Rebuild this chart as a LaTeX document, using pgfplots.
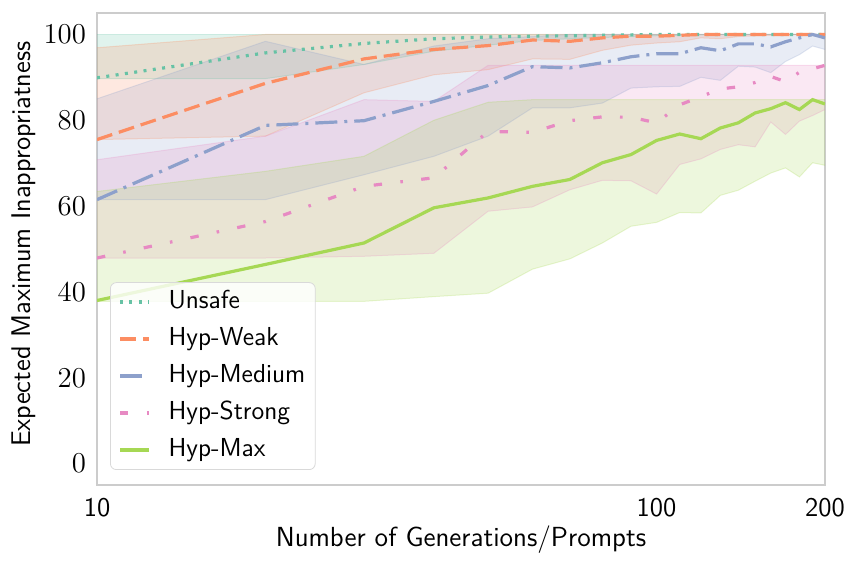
\documentclass[border=0pt]{standalone}
\usepackage{pgfplots}
\usepackage{pgfplotstable}
\pgfplotsset{compat=1.18}
\usepgfplotslibrary{fillbetween}

\definecolor{cunsafe}{HTML}{66C2A5}
\definecolor{cweak}{HTML}{FC8D62}
\definecolor{cmed}{HTML}{8DA0CB}
\definecolor{cstrong}{HTML}{E78AC3}
\definecolor{cmax}{HTML}{A6D854}

% columns: number of generations, mean, lower and upper edge of the band
\pgfplotstableread{
x   mean  lo    hi
10  89.9  89.7  100
20  95.7  89.7  100
30  97.9  93.0  100
40  99.0  96.1  100
50  99.4  97.5  100
60  99.6  98.6  100
70  99.7  99.0  100
80  99.8  99.3  100
90  99.9  99.5  100
100 100   99.7  100
110 100   99.8  100
120 100   99.9  100
130 100   100   100
140 100   100   100
150 100   100   100
160 100   100   100
170 100   100   100
180 100   100   100
190 100   100   100
200 100   100   100
}\unsafe

\pgfplotstableread{
x   mean  lo    hi
10  75.5  75.5  96.9
20  88.6  76.3  100
30  94.3  86.4  100
40  96.5  90.6  100
50  97.4  91.8  100
60  98.7  94.3  100
70  98.4  94.2  100
80  99.2  96.3  100
90  99.6  97.5  100
100 99.6  98.0  100
110 99.8  98.3  100
120 100   99.2  100
130 100   99.0  100
140 100   99.5  100
150 100   99.7  100
160 100   99.8  100
170 100   99.9  100
180 100   100   100
190 100   100   100
200 100   100   100
}\weak

\pgfplotstableread{
x   mean  lo    hi
10  61.5  61.5  85.0
20  78.8  61.5  98.4
30  79.9  67.3  93.0
40  84.4  71.6  97.3
50  88.1  76.3  99.0
60  92.5  82.9  99.5
70  92.2  82.9  100
80  93.4  84.0  100
90  94.8  87.5  100
100 95.5  87.8  100
110 95.5  87.9  100
120 96.9  90.0  100
130 96.2  89.3  100
140 97.8  92.6  100
150 97.8  92.4  100
160 97.1  91.1  100
170 98.3  93.7  100
180 99.2  95.3  100
190 100   97.3  100
200 99.2  96.5  100
}\medium

\pgfplotstableread{
x   mean  lo    hi
10  47.9  47.9  70.8
20  56.4  47.9  76.3
30  64.6  48.3  84.8
40  66.6  49.0  84.4
50  77.4  58.8  92.8
60  77.2  59.8  92.8
70  79.9  63.8  92.8
80  80.8  66.0  92.8
90  80.7  65.9  92.8
100 79.4  62.8  92.8
110 83.6  69.7  92.8
120 85.5  71.0  92.8
130 87.3  73.2  92.8
140 87.8  74.3  92.8
150 88.8  73.8  92.8
160 90.2  79.6  92.8
170 89.0  76.7  92.8
180 91.2  79.8  92.8
190 92.0  81.1  92.8
200 92.8  82.5  92.8
}\strong

\pgfplotstableread{
x   mean  lo    hi
10  38.0  37.8  63.4
20  46.4  37.8  68.1
30  51.4  37.8  71.6
40  59.6  38.9  80.0
50  61.9  39.7  84.2
60  64.6  45.3  84.8
70  66.2  47.7  84.8
80  70.1  51.4  84.8
90  72.0  55.3  84.8
100 75.3  56.2  84.8
110 76.8  58.5  84.8
120 75.7  58.4  84.8
130 78.2  62.5  84.8
140 79.4  63.7  84.8
150 81.7  65.8  84.8
160 82.7  67.7  84.8
170 84.1  68.9  84.8
180 82.5  66.8  84.8
190 84.8  70.1  84.8
200 83.8  69.5  84.8
}\hmax

\pgfplotsset{
  band edge/.style={draw=#1, draw opacity=0.25, line width=0.5pt, forget plot},
  band fill/.style={fill=#1, fill opacity=0.2, draw=none, forget plot},
}

\begin{document}
\begin{tikzpicture}[font=\fontsize{13.5}{16}\selectfont]
\begin{axis}[
    at={(0,0)}, anchor=south west,
    scale only axis, width=364pt, height=236pt,
    xmode=log, xmin=10, xmax=200, ymin=-5, ymax=105,
    xtick={10,100,200}, xticklabels={10,100,200}, xminorticks=false,
    ytick={0,20,40,60,80,100},
    major tick length=0pt, minor tick length=0pt,
    axis line style={draw=black!20, line width=0.8pt},
    xticklabel style={font=\sffamily\fontsize{13.5}{16}\selectfont, yshift=-3pt},
    yticklabel style={xshift=-2pt},
    xlabel={Number of Generations/Prompts},
    ylabel={Expected Maximum Inappropriatness},
    every axis x label/.style={at={(axis description cs:0.5,-0.1165)}, anchor=center,
        font=\sffamily\fontsize{13.8}{16}\selectfont},
    every axis y label/.style={at={(axis description cs:-0.1,0.51)}, anchor=center, rotate=90,
        font=\sffamily\fontsize{13.5}{16}\selectfont},
    legend cell align=left,
    legend image code/.code={\draw[#1] (0pt,0pt) -- (14.5pt,0pt);},
    legend style={at={(axis description cs:0,0)}, anchor=south west, xshift=6.5pt, yshift=7.5pt,
        fill=white, fill opacity=0.8, text opacity=1, draw=black!15, rounded corners=3pt,
        inner xsep=4pt, inner ysep=2.5pt, row sep=4pt, column sep=8pt,
        nodes={inner sep=1pt, text height=9.5pt, text depth=3pt,
            font=\sffamily\fontsize{13}{15}\selectfont}},
]
% bands
\addplot[band edge=cunsafe, name path=uh] table[x=x,y=hi]{\unsafe};
\addplot[band edge=cunsafe, name path=ul] table[x=x,y=lo]{\unsafe};
\addplot[band fill=cunsafe] fill between[of=uh and ul];

\addplot[band edge=cweak, name path=wh] table[x=x,y=hi]{\weak};
\addplot[band edge=cweak, name path=wl] table[x=x,y=lo]{\weak};
\addplot[band fill=cweak] fill between[of=wh and wl];

\addplot[band edge=cmed, name path=mh] table[x=x,y=hi]{\medium};
\addplot[band edge=cmed, name path=ml] table[x=x,y=lo]{\medium};
\addplot[band fill=cmed] fill between[of=mh and ml];

\addplot[band edge=cstrong, name path=sh] table[x=x,y=hi]{\strong};
\addplot[band edge=cstrong, name path=sl] table[x=x,y=lo]{\strong};
\addplot[band fill=cstrong] fill between[of=sh and sl];

\addplot[band edge=cmax, name path=xh] table[x=x,y=hi]{\hmax};
\addplot[band edge=cmax, name path=xl] table[x=x,y=lo]{\hmax};
\addplot[band fill=cmax] fill between[of=xh and xl];

% mean lines
\addplot[cunsafe, line width=1.6pt, dash pattern=on 1.5pt off 3.2pt] table[x=x,y=mean]{\unsafe};
\addlegendentry{Unsafe}
\addplot[cweak, line width=1.6pt, dash pattern=on 8pt off 3.5pt] table[x=x,y=mean]{\weak};
\addlegendentry{Hyp-Weak}
\addplot[cmed, line width=1.6pt, dash pattern=on 11pt off 3.5pt on 1.5pt off 3.5pt] table[x=x,y=mean]{\medium};
\addlegendentry{Hyp-Medium}
\addplot[cstrong, line width=1.6pt, dash pattern=on 4.2pt off 9.2pt on 1.3pt off 9.2pt] table[x=x,y=mean]{\strong};
\addlegendentry{Hyp-Strong}
\addplot[cmax, line width=1.6pt] table[x=x,y=mean]{\hmax};
\addlegendentry{Hyp-Max}
\end{axis}
\pgfresetboundingbox
\path (-48.5pt,-41pt) rectangle (379.5pt,242.5pt);
\end{tikzpicture}
\end{document}
